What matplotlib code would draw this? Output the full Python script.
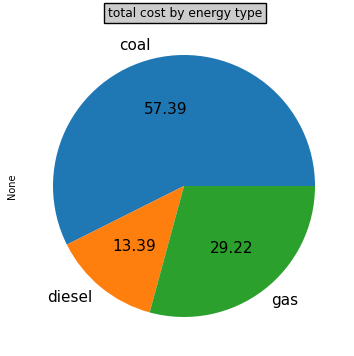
import matplotlib
matplotlib.use('Agg')
import matplotlib.pyplot as plt

# data
energy = ['coal', 'diesel', 'gas']
cost = [57.39, 13.39, 29.22]
colors = ['#1f77b4', '#ff7f0e', '#2ca02c']

fig = plt.figure(figsize=(3.54, 3.56), dpi=100)
# pie uses limits of +-1.25, radius ~131 px centred at (184, 186)
w = 2.5 * 131
ax = fig.add_axes([(184 - w / 2) / 354, (356 - 186 - w / 2) / 356, w / 354, w / 356])
ax.pie(cost, labels=energy, colors=colors, autopct='%.2f',
       textprops={'fontsize': 11})
ax.set_aspect('equal')
ax.set_ylabel('None', fontsize=7, labelpad=2)

fig.text(185 / 354, 1 - 13 / 356, 'total cost by energy type', fontsize=8.8,
         ha='center', va='center',
         bbox=dict(facecolor='#cccccc', edgecolor='black', boxstyle='square,pad=0.3'))

fig.savefig('out.png', dpi=100)
